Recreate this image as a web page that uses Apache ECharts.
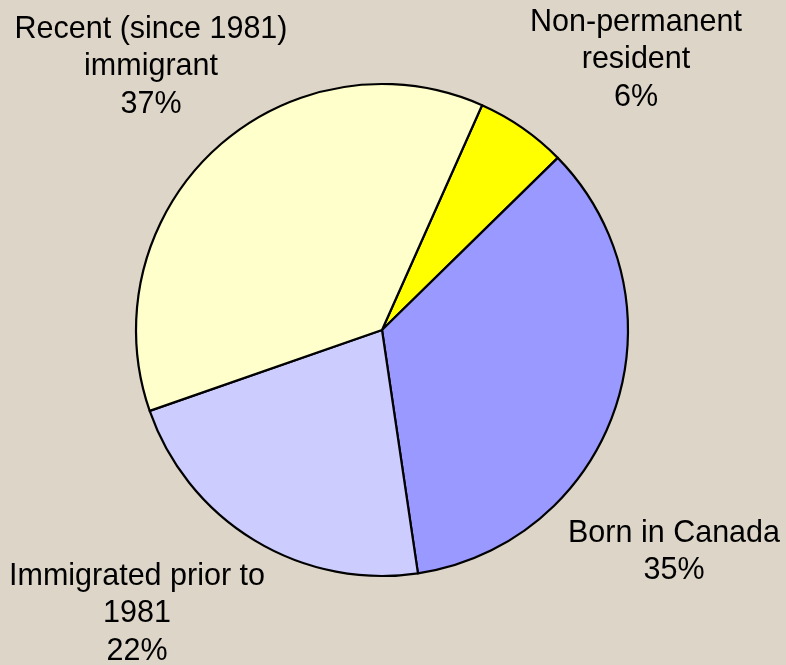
<!DOCTYPE html>
<html style="height: 100%">

<head>
    <meta charset="utf-8">
</head>

<body style="height: 100%; margin: 0; background: #ddd5c7">
    <div id="container" style="width: 786px; height: 665px"></div>
    <script src="https://cdn.jsdelivr.net/npm/echarts@6/dist/echarts.min.js"></script>
    <script type="text/javascript">
        // slices in clockwise order, starting from the top
        var names = ['Non-permanent\nresident', 'Born in Canada', 'Immigrated prior to\n1981', 'Recent (since 1981)\nimmigrant'];
        var shares = [6, 35, 22, 37];
        var colors = ['#ffff00', '#9999ff', '#ccccff', '#ffffcc'];

        // where each label block sits (center of text block)
        var labelSpots = [[636, 60], [674, 552], [137, 614], [151, 67]];

        var dom = document.getElementById("container");
        var myChart = echarts.init(dom);

        var pieData = [];
        for (var i = 0; i < names.length; i++) {
            pieData.push({
                name: names[i],
                value: shares[i],
                itemStyle: { color: colors[i] }
            });
        }

        option = {
            backgroundColor: '#ddd5c7',
            animation: false,
            series: [
                {
                    type: 'pie',
                    center: [382, 330],
                    radius: 246,
                    startAngle: 66,
                    clockwise: true,
                    data: pieData,
                    itemStyle: {
                        borderColor: '#000',
                        borderWidth: 2.2
                    },
                    label: {
                        show: true,
                        formatter: '{b}\n{c}%',
                        color: '#000',
                        fontFamily: 'Liberation Sans, Arial, sans-serif',
                        fontSize: 30.5,
                        lineHeight: 37.5,
                        align: 'center',
                        overflow: 'none',
                        width: 400
                    },
                    labelLine: { show: false },
                    labelLayout: function (params) {
                        var p = labelSpots[params.dataIndex];
                        return {
                            x: p[0],
                            y: p[1],
                            align: 'center',
                            verticalAlign: 'middle'
                        };
                    },
                    emphasis: { disabled: true }
                }
            ]
        };

        if (option && typeof option === "object") {
            myChart.setOption(option, true);
        }
    </script>
</body>

</html>
